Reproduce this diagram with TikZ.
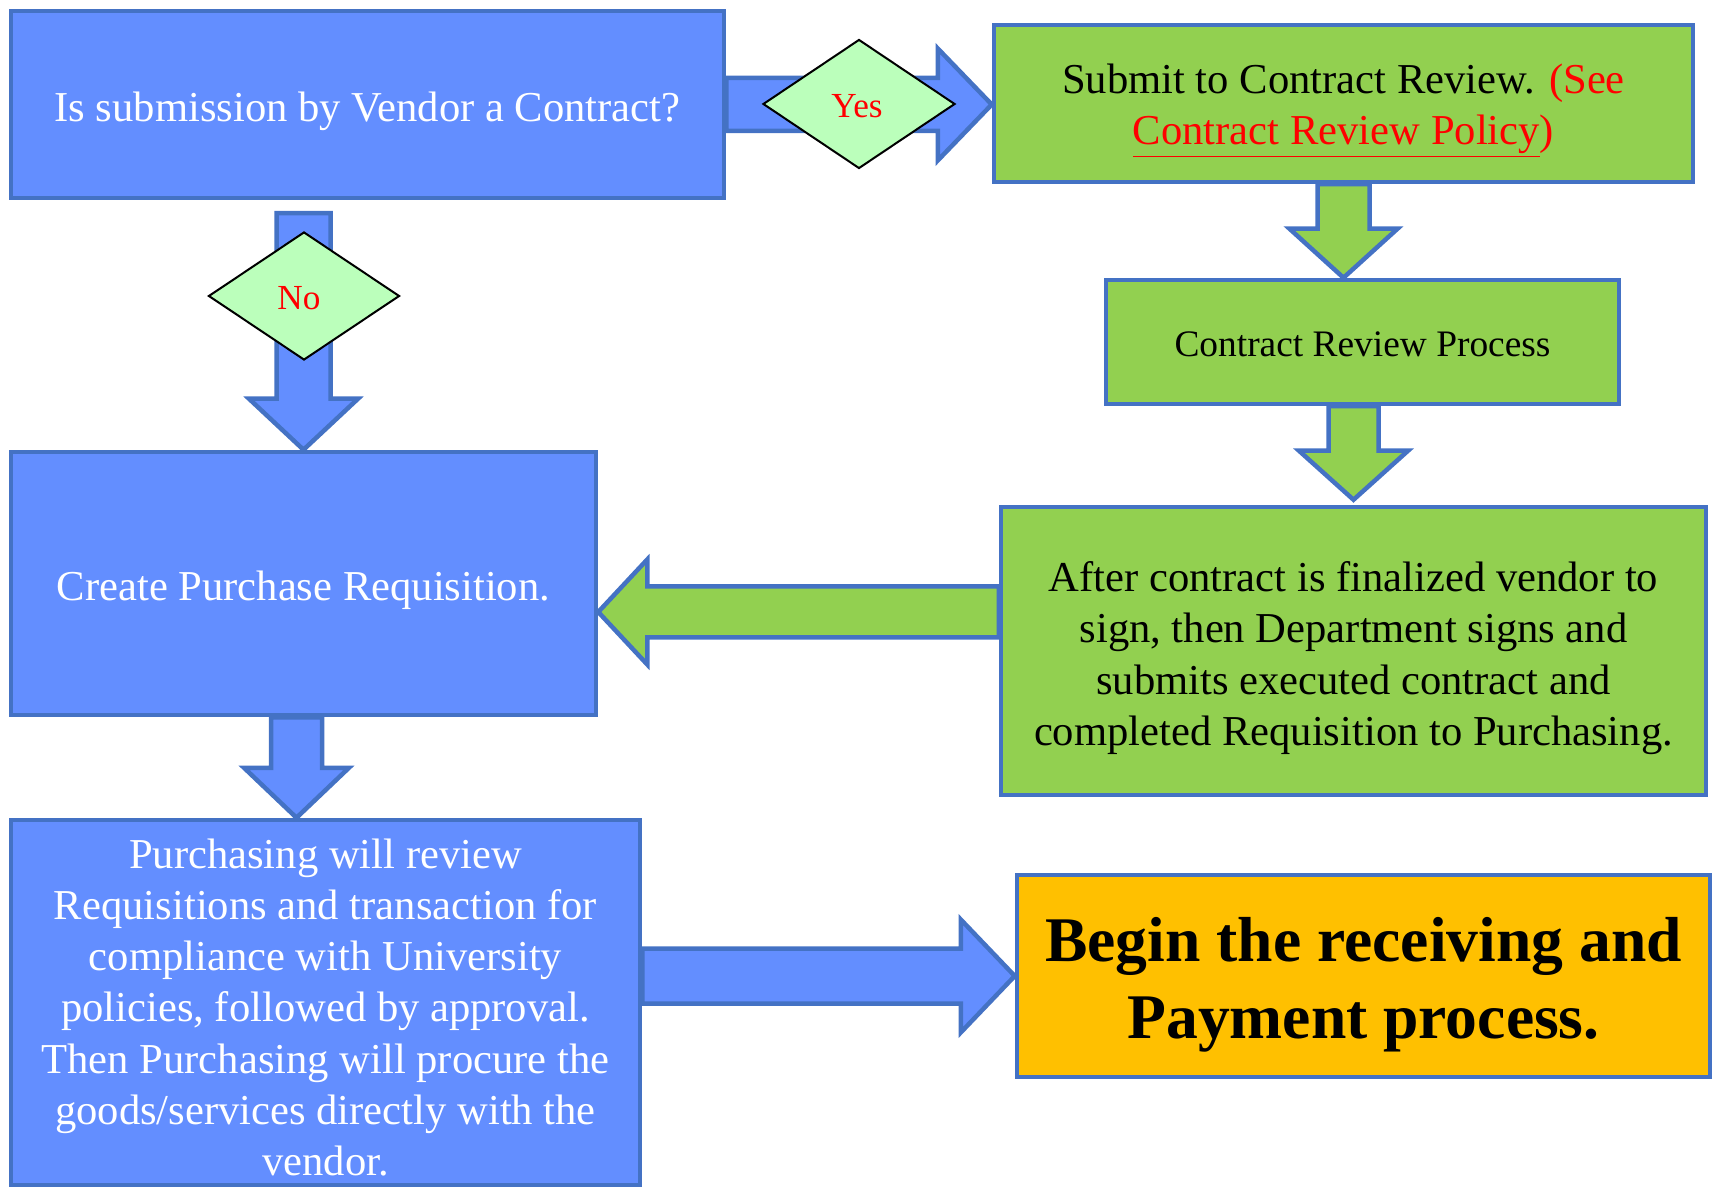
\documentclass[tikz,border=0pt]{standalone}
\usepackage{fontspec}
\setmainfont{Liberation Serif}
\usetikzlibrary{shapes.geometric,calc}
\pgfdeclarelayer{bg}
\pgfsetlayers{bg,main}
\definecolor{bfill}{RGB}{99,142,255}
\definecolor{bline}{RGB}{68,114,196}
\definecolor{gfill}{RGB}{146,208,80}
\definecolor{dfill}{RGB}{187,255,187}
\definecolor{ofill}{RGB}{255,192,0}
% block arrows: style, start, tip, shaft half width, head half width, head length
\newcommand{\arrR}[6]{\path[#1] let \p1=(#2), \p2=(#3) in (\x1,\y1+#4) -- (\x2-#6,\y1+#4) -- (\x2-#6,\y1+#5) -- (\x2,\y1) -- (\x2-#6,\y1-#5) -- (\x2-#6,\y1-#4) -- (\x1,\y1-#4) -- cycle;}
\newcommand{\arrL}[6]{\path[#1] let \p1=(#2), \p2=(#3) in (\x1,\y1+#4) -- (\x2+#6,\y1+#4) -- (\x2+#6,\y1+#5) -- (\x2,\y1) -- (\x2+#6,\y1-#5) -- (\x2+#6,\y1-#4) -- (\x1,\y1-#4) -- cycle;}
\newcommand{\arrD}[6]{\path[#1] let \p1=(#2), \p2=(#3) in (\x1-#4,\y1) -- (\x1-#4,\y2+#6) -- (\x1-#5,\y2+#6) -- (\x1,\y2) -- (\x1+#5,\y2+#6) -- (\x1+#4,\y2+#6) -- (\x1+#4,\y1) -- cycle;}
\tikzset{
  box/.style={rectangle, draw=bline, line width=2.25pt, inner sep=0pt},
  bluebox/.style={box, fill=bfill},
  greenbox/.style={box, fill=gfill},
  orangebox/.style={box, fill=ofill},
  txt/.style={inner sep=0pt, align=center, font=\fontsize{21.3}{25.6}\selectfont},
  whitetxt/.style={txt, text=white},
  blacktxt/.style={txt, text=black},
  boldtxt/.style={txt, text=black, font=\fontsize{31.8}{38.3}\selectfont\bfseries},
  blockblue/.style={fill=bfill, draw=bline, line width=2.25pt, line join=miter},
  blockgreen/.style={fill=gfill, draw=bline, line width=2.25pt, line join=miter},
  decision/.style={diamond, draw=black, line width=1pt, fill=dfill, inner sep=0pt, aspect=1.5},
  dtxt/.style={inner sep=0pt, text=red, font=\fontsize{17.6}{21}\selectfont}
}
\begin{document}
\begin{tikzpicture}[x=0.5pt,y=-0.5pt]
\useasboundingbox (0,0) rectangle (1715,1187);
\node[bluebox, minimum width=356.5pt, minimum height=93.5pt] (b1) at (367.5,104.5) {};
\node[greenbox, minimum width=349.5pt, minimum height=78.5pt] (b2) at (1343.5,103.5) {};
\node[greenbox, minimum width=256.5pt, minimum height=62pt] (b3) at (1362.5,342) {};
\node[greenbox, minimum width=352.5pt, minimum height=144pt] (b4) at (1353.5,651) {};
\node[bluebox, minimum width=292.5pt, minimum height=131.5pt] (b5) at (303.5,583.5) {};
\node[bluebox, minimum width=314.5pt, minimum height=182.5pt] (b6) at (325.5,1002.5) {};
\node[orangebox, minimum width=346.5pt, minimum height=101pt] (b7) at (1363.5,976) {};
\node[whitetxt] (t1) at ($(b1.center)+(0,7)$) {Is submission by Vendor a Contract?};
\node[blacktxt] (t2) at ($(b2.center)+(0,7)$) {Submit to Contract Review. \textcolor{red}{(See}\\ \textcolor{red}{\underline{Contract Review Policy})}};
\node[blacktxt, font=\fontsize{18.7}{22.4}\selectfont] (t3) at ($(b3.center)+(0,2.5)$) {Contract Review Process};
\node[blacktxt] (t4) at ($(b4.center)+(0,7)$) {After contract is finalized vendor to\\ sign, then Department signs and\\ submits executed contract and\\ completed Requisition to Purchasing.};
\node[whitetxt] (t5) at ($(b5.center)+(0,7)$) {Create Purchase Requisition.};
\node[whitetxt] (t6) at ($(b6.center)+(0,5)$) {Purchasing will review\\ Requisitions and transaction for\\ compliance with University\\ policies, followed by approval.\\ Then Purchasing will procure the\\ goods/services directly with the\\ vendor.};
\node[boldtxt] (t7) at ($(b7.center)+(0,8.5)$) {Begin the receiving and\\ Payment process.};
\begin{pgfonlayer}{bg}
\arrR{blockblue}{b1.east}{b2.west}{13.25pt}{28pt}{27pt}
\arrD{blockblue}{$(b1.south -| b5.north)+(0,13)$}{b5.north}{13.5pt}{27.25pt}{25.5pt}
\arrD{blockgreen}{b2.south}{b3.north}{13pt}{27pt}{24.5pt}
\arrD{blockgreen}{b3.south -| b4.north}{$(b4.north)+(0,-5)$}{12.5pt}{27.25pt}{24.5pt}
\arrL{blockgreen}{$(b4.west)+(0,-39)$}{b5.east}{12.75pt}{26.25pt}{24.5pt}
\arrD{blockblue}{$(b5.south)+(-7,0)$}{b6.north}{12.75pt}{26.25pt}{25pt}
\arrR{blockblue}{b6.east |- b7.west}{b7.west}{13.75pt}{28.25pt}{27pt}
\end{pgfonlayer}
\node[decision, minimum width=96pt, minimum height=64.5pt] (dY) at (859,104) {};
\node[decision, minimum width=95.5pt, minimum height=64pt] (dN) at (304,296) {};
\node[dtxt] (tY) at ($(dY.center)+(-2,2.5)$) {Yes};
\node[dtxt] (tN) at ($(dN.center)+(-5,2.5)$) {No};
\end{tikzpicture}
\end{document}
